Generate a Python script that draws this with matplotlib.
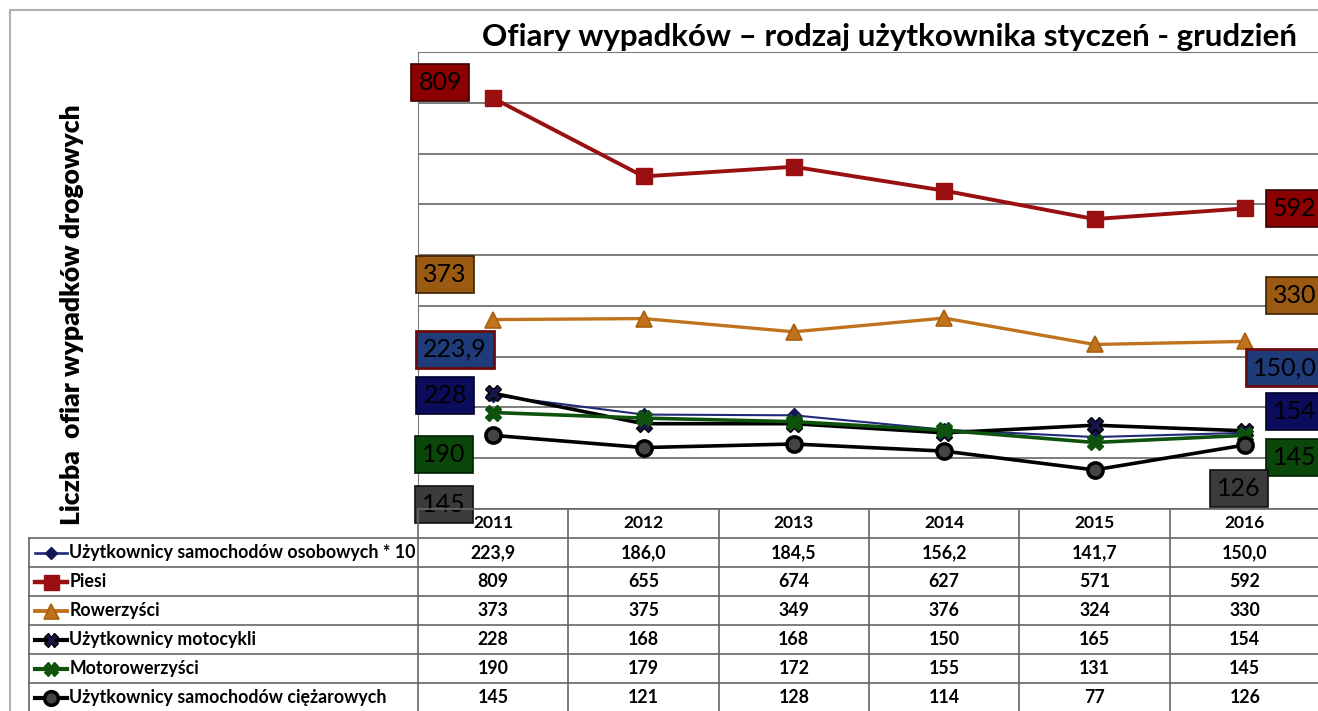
import matplotlib.pyplot as plt
from matplotlib.patches import Rectangle
from matplotlib.lines import Line2D

plt.rcParams['font.family'] = ['Lato', 'DejaVu Sans']

years = ['2011', '2012', '2013', '2014', '2015', '2016']
series_names = ['Użytkownicy samochodów osobowych * 10', 'Piesi', 'Rowerzyści',
                'Użytkownicy motocykli', 'Motorowerzyści', 'Użytkownicy samochodów ciężarowych']
osobowe = [223.9, 186.0, 184.5, 156.2, 141.7, 150.0]
piesi = [809, 655, 674, 627, 571, 592]
rowerzysci = [373, 375, 349, 376, 324, 330]
motocykle = [228, 168, 168, 150, 165, 154]
motorowerzysci = [190, 179, 172, 155, 131, 145]
ciezarowe = [145, 121, 128, 114, 77, 126]
table_text = [
    ['223,9', '186,0', '184,5', '156,2', '141,7', '150,0'],
    [str(v) for v in piesi],
    [str(v) for v in rowerzysci],
    [str(v) for v in motocykle],
    [str(v) for v in motorowerzysci],
    [str(v) for v in ciezarowe],
]
all_values = [osobowe, piesi, rowerzysci, motocykle, motorowerzysci, ciezarowe]

# style per series: line color, line width, marker, marker size, face, edge
styles = [
    dict(color='#1f2a78', lw=1.5, marker='D', ms=7, mfc='#14185a', mec='#14185a', mew=1),
    dict(color='#9a0f0f', lw=2.8, marker='s', ms=12, mfc='#9a0f0f', mec='#9a0f0f', mew=1),
    dict(color='#c0731c', lw=2.4, marker='^', ms=12, mfc='#c0731c', mec='#a8600e', mew=1.2),
    dict(color='black', lw=2.6, marker='X', ms=11, mfc='#15154a', mec='black', mew=1),
    dict(color='#0e520e', lw=2.6, marker='X', ms=11, mfc='#0e520e', mec='#0e520e', mew=1),
    dict(color='black', lw=2.6, marker='o', ms=11, mfc='#444444', mec='black', mew=2.5),
]

# label boxes: fill, edge, (left offset px), (right offset px)
label_style = [
    ('#1f3b7a', '#6b0a0a', (-38, 46), (40, 65)),
    ('#8b0000', '#3a0000', (-53, 16), (50, 0)),
    ('#9a5a12', '#3a2000', (-48, 45), (50, 46)),
    ('#0c0c5c', '#00002a', (-48, -2), (50, 19)),
    ('#0b460b', '#002000', (-49, -42), (50, -22)),
    ('#3b3b3b', '#101010', (-49, -69), (-6, -43)),
]

W, H = 1318, 711
fig = plt.figure(figsize=(W / 100, H / 100), dpi=100)

# outer chart frame
fig.patches.append(Rectangle((10 / W, -0.1), 1.2, 1 - 10 / H + 0.1, transform=fig.transFigure,
                             fill=False, edgecolor='#b0b0b0', lw=1.5))

ax = fig.add_axes([418 / W, (H - 509) / H, 902 / W, 457 / H])
x = list(range(len(years)))
for vals, st in zip(all_values, styles):
    ax.plot(x, vals, color=st['color'], lw=st['lw'], marker=st['marker'], ms=st['ms'],
            mfc=st['mfc'], mec=st['mec'], mew=st['mew'], zorder=3)

ax.set_xlim(-0.5, 5.5)
ax.set_ylim(0, 900)
ax.set_yticks(range(0, 901, 100))
ax.yaxis.grid(True, color='#7c7c7c', lw=1.4)
ax.set_axisbelow(True)
ax.tick_params(left=False, bottom=False, labelleft=False, labelbottom=False)
for side in ['right', 'bottom']:
    ax.spines[side].set_visible(False)
ax.spines['left'].set_color('#7c7c7c')
ax.spines['top'].set_color('#7c7c7c')

# data labels at first and last point
for vals, txt, (fc, ec, off_l, off_r) in zip(all_values, table_text, label_style):
    for i, off in [(0, off_l), (5, off_r)]:
        ax.annotate(txt[i], xy=(i, vals[i]), xytext=off, textcoords='offset pixels',
                    ha='center', va='center', fontsize=18, color='black', zorder=5,
                    annotation_clip=False,
                    bbox=dict(boxstyle='square,pad=0.28', fc=fc, ec=ec,
                              lw=2 if ec == '#6b0a0a' else 1.2))

fig.text(889 / W, 1 - 37 / H, 'Ofiary wypadków – rodzaj użytkownika styczeń - grudzień',
         ha='center', va='center', fontsize=22.6, fontweight='bold')
fig.text(72 / W, 1 - 315 / H, 'Liczba  ofiar wypadków drogowych', rotation=90,
         ha='center', va='center', fontsize=19, fontweight='heavy')

# data table
tab = fig.add_axes([418 / W, (H - 712) / H, 902 / W, 203 / H], sharex=ax)
tab.set_ylim(7, 0)
tab.axis('off')
left = -0.5 - (418 - 30) / 150
grid_c = '#666666'
for r in range(1, 8):
    tab.plot([left, 5.5], [r, r], color=grid_c, lw=1.2, clip_on=False)
tab.plot([-0.5, 5.5], [0, 0], color=grid_c, lw=1.2, clip_on=False)
tab.plot([left, left], [1, 7], color=grid_c, lw=1.2, clip_on=False)
for b in [-0.5, 0.5, 1.5, 2.5, 3.5, 4.5]:
    tab.plot([b, b], [0, 7], color=grid_c, lw=1.2, clip_on=False)
for i, yr in enumerate(years):
    tab.text(i, 0.5, yr, ha='center', va='center', fontsize=12.5, fontweight='bold')
key_x0 = -0.5 - (418 - 36) / 150
key_x1 = -0.5 - (418 - 68) / 150
for r, (name, st, row) in enumerate(zip(series_names, styles, table_text), start=1):
    tab.add_line(Line2D([key_x0, key_x1], [r + 0.5, r + 0.5], color=st['color'],
                        lw=st['lw'] + 0.4, clip_on=False))
    tab.add_line(Line2D([(key_x0 + key_x1) / 2], [r + 0.5], marker=st['marker'],
                        ms=st['ms'] * 0.9, mfc=st['mfc'], mec=st['mec'], mew=st['mew'],
                        color=st['color'], clip_on=False))
    tab.text(-0.5 - (418 - 70) / 150, r + 0.5, name, ha='left', va='center',
             fontsize=12.8, fontweight='bold')
    for i, t in enumerate(row):
        tab.text(i, r + 0.5, t, ha='center', va='center', fontsize=12.8, fontweight='bold')

fig.savefig('out.png', dpi=100)
